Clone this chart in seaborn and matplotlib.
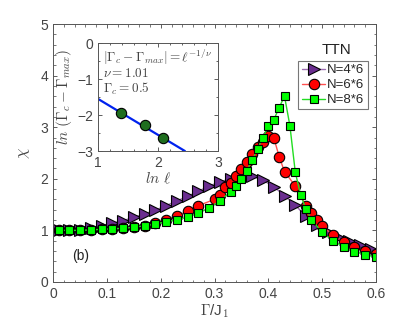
import matplotlib
matplotlib.use("Agg")
import matplotlib.pyplot as plt
import seaborn as sns

# chi vs Gamma/J1 for three TTN cluster sizes
x_4x6 = [0.01, 0.03, 0.05, 0.07, 0.09, 0.11, 0.13, 0.15, 0.17, 0.19, 0.21, 0.23,
         0.25, 0.27, 0.29, 0.31, 0.33, 0.35, 0.37, 0.39, 0.41, 0.43, 0.45, 0.47,
         0.49, 0.51, 0.53, 0.55, 0.57, 0.59]
chi_4x6 = [1.0, 1.0, 1.01, 1.05, 1.09, 1.14, 1.19, 1.25, 1.32, 1.39, 1.48, 1.57,
           1.66, 1.76, 1.86, 1.94, 2.0, 2.04, 2.05, 1.97, 1.85, 1.67, 1.49, 1.27,
           1.1, 0.97, 0.88, 0.8, 0.71, 0.63]

x_6x6 = [0.01, 0.03, 0.05, 0.07, 0.09, 0.11, 0.13, 0.15, 0.17, 0.19, 0.21, 0.23,
         0.25, 0.27, 0.30, 0.31, 0.32, 0.33, 0.34, 0.35, 0.36, 0.37, 0.38, 0.39,
         0.40, 0.41, 0.42, 0.43, 0.45, 0.47, 0.48, 0.49, 0.50, 0.52, 0.54, 0.56,
         0.58, 0.60]
chi_6x6 = [1.0, 1.0, 1.0, 1.01, 1.02, 1.03, 1.05, 1.06, 1.08, 1.14, 1.2, 1.28,
           1.37, 1.48, 1.6, 1.68, 1.84, 1.92, 2.05, 2.18, 2.33, 2.48, 2.62, 2.71,
           2.82, 2.8, 2.43, 2.14, 1.86, 1.48, 1.33, 1.2, 1.08, 0.91, 0.78, 0.68,
           0.6, 0.54]

x_8x6 = [0.01, 0.03, 0.05, 0.07, 0.09, 0.11, 0.13, 0.15, 0.17, 0.19, 0.21, 0.23,
         0.25, 0.27, 0.29, 0.31, 0.33, 0.34, 0.35, 0.36, 0.37, 0.38, 0.39, 0.40,
         0.41, 0.42, 0.43, 0.44, 0.45, 0.46, 0.47, 0.48, 0.50, 0.52, 0.54, 0.56,
         0.58, 0.60]
chi_8x6 = [1.0, 1.0, 1.0, 1.01, 1.02, 1.03, 1.04, 1.06, 1.09, 1.12, 1.17, 1.2,
           1.26, 1.33, 1.44, 1.57, 1.75, 1.86, 2.0, 2.16, 2.36, 2.58, 2.8, 3.03,
           3.14, 3.38, 3.6, 3.03, 2.13, 1.68, 1.41, 1.21, 0.96, 0.8, 0.68, 0.59,
           0.53, 0.48]

# inset: finite size scaling
ln_l = [1.386, 1.792, 2.079]
ln_gap = [-1.95, -2.28, -2.64]
fit_x = [1.0, 2.45]
fit_y = [-1.55, -3.0]

series = [
    ("N=4*6", x_4x6, chi_4x6, ">", "#9b6bb0", "#6a2d8f", 8.5),
    ("N=6*6", x_6x6, chi_6x6, "o", "#ff5050", "#ff0000", 7.5),
    ("N=8*6", x_8x6, chi_8x6, "s", "#22dd22", "#00ff00", 6.0),
]

sns.set_style("ticks")
plt.rcParams["font.family"] = ["Liberation Sans", "DejaVu Sans"]
plt.rcParams["mathtext.fontset"] = "cm"
grey = "#444444"

fig = plt.figure(figsize=(4.15, 3.29), dpi=100)
ax = fig.add_axes([0.128, 0.143, 0.778, 0.784])

for label, xs, ys, mk, lc, fc, ms in series:
    sns.lineplot(x=xs, y=ys, ax=ax, color=lc, marker=mk, markersize=ms,
                 markerfacecolor=fc, markeredgecolor="black",
                 markeredgewidth=0.8, linewidth=1.0, label=label)

ax.set_xlim(0, 0.6)
ax.set_ylim(0, 5)
ax.set_xticks([0, 0.1, 0.2, 0.3, 0.4, 0.5, 0.6])
ax.set_xticklabels(["0", "0.1", "0.2", "0.3", "0.4", "0.5", "0.6"])
ax.set_yticks([0, 1, 2, 3, 4, 5])
ax.set_xticks([i * 0.02 for i in range(31)], minor=True)
ax.set_yticks([i * 0.2 for i in range(26)], minor=True)
ax.tick_params(direction="in", top=True, right=True, labelsize=10,
               colors=grey, length=3, width=0.6)
ax.tick_params(which="minor", direction="in", top=True, right=True,
               length=1.8, width=0.5, colors=grey)
for s in ax.spines.values():
    s.set_color("#555555")
    s.set_linewidth(0.7)
ax.set_xlabel(r"$\Gamma$/J$_1$", fontsize=11, color=grey, labelpad=1)
ax.set_ylabel(r"$\chi$", fontsize=12, color=grey, labelpad=6)
ax.text(0.035, 0.5, "(b)", fontsize=10, color="#222222", va="center")

leg = ax.legend(loc="upper right", bbox_to_anchor=(0.975, 0.857), fontsize=9.5,
                frameon=True, fancybox=False, handlelength=1.8,
                handletextpad=0.15, borderpad=0.25, labelspacing=0.2,
                borderaxespad=0)
leg.get_frame().set_edgecolor("#555555")
leg.get_frame().set_linewidth(0.8)
ax.text(0.878, 0.9, "TTN", transform=ax.transAxes, fontsize=11,
        color="#222222", ha="center", va="center")

# inset
ins = fig.add_axes([0.236, 0.541, 0.289, 0.328])
sns.lineplot(x=fit_x, y=fit_y, ax=ins, color="#0022ee", linewidth=1.6)
sns.scatterplot(x=ln_l, y=ln_gap, ax=ins, color="#1f6e1f", edgecolor="black",
                s=55, linewidth=0.8, zorder=3)
ins.set_xlim(1, 3)
ins.set_ylim(-3, 0)
ins.set_xticks([1, 2, 3])
ins.set_yticks([-3, -2, -1, 0])
ins.set_xticks([1.2, 1.4, 1.6, 1.8, 2.2, 2.4, 2.6, 2.8], minor=True)
ins.set_yticks([-2.5, -1.5, -0.5], minor=True)
ins.tick_params(direction="in", top=True, right=True, labelsize=10,
                colors=grey, length=3, width=0.6)
ins.tick_params(which="minor", direction="in", top=True, right=True,
                length=1.5, width=0.5)
for s in ins.spines.values():
    s.set_color("#555555")
    s.set_linewidth(0.7)
ins.set_xlabel(r"$ln\ \ell$", fontsize=11, color=grey, labelpad=1)
ins.set_ylabel(r"$ln\ (\Gamma_c-\Gamma_{max})$", fontsize=11, color=grey,
               labelpad=2)
ins.text(0.04, 0.87, r"$|\Gamma_c-\Gamma_{max}|=\ell^{-1/\nu}$",
         transform=ins.transAxes, fontsize=9.5, color=grey, va="center")
ins.text(0.04, 0.715, r"$\nu=1.01$", transform=ins.transAxes, fontsize=9.5,
         color=grey, va="center")
ins.text(0.04, 0.575, r"$\Gamma_c=0.5$", transform=ins.transAxes, fontsize=9.5,
         color=grey, va="center")

fig.savefig("out.png", dpi=100)
